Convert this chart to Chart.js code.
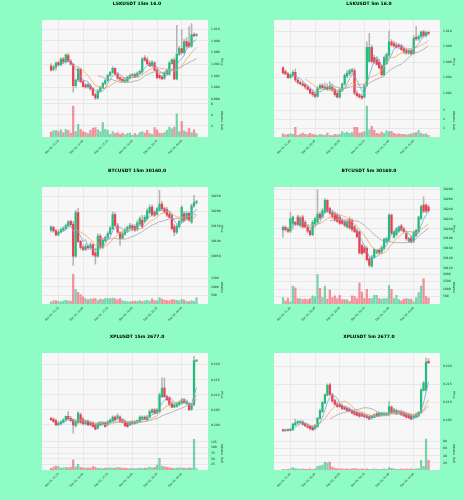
<!DOCTYPE html>
<html>
<head>
<meta charset="utf-8">
<script src="https://cdn.jsdelivr.net/npm/chart.js@4.4.0/dist/chart.umd.min.js"></script>
<style>
  html, body { margin: 0; padding: 0; background: #8efcc4; }
  body { width: 464px; height: 500px; position: relative; overflow: hidden; }
  canvas { position: absolute; }
</style>
</head>
<body>
<canvas id="c0" width="232" height="167" style="left:0;top:0"></canvas>
<canvas id="c1" width="232" height="167" style="left:232px;top:0"></canvas>
<canvas id="c2" width="232" height="167" style="left:0;top:167px"></canvas>
<canvas id="c3" width="232" height="167" style="left:232px;top:167px"></canvas>
<canvas id="c4" width="232" height="167" style="left:0;top:333px"></canvas>
<canvas id="c5" width="232" height="167" style="left:232px;top:333px"></canvas>
<script>
// ---- tick labels (shared) ----
const xTickPos = [3, 13, 23, 33, 43, 53];
const ticks15m = ['Dec 03, 12:15', 'Dec 03, 14:45', 'Dec 03, 17:15', 'Dec 03, 19:45', 'Dec 03, 22:15', 'Dec 04, 00:45'];
const ticks5m = ['Dec 03, 21:45', 'Dec 03, 22:35', 'Dec 03, 23:25', 'Dec 04, 00:15', 'Dec 04, 01:05', 'Dec 04, 01:55'];

// ---- LSKUSDT 15m ----
const lsk15Open = [1.0037,1.0031,1.0035,1.0043,1.0039,1.0049,1.0044,1.0055,1.0045,1.0040,1.0003,1.0013,1.0031,1.0010,1.0004,1.0001,1.0003,0.9998,0.9988,0.9982,0.9994,0.9999,1.0007,1.0012,1.0021,1.0026,1.0033,1.0023,1.0017,1.0014,1.0011,1.0011,1.0017,1.0021,1.0022,1.0019,1.0025,1.0027,1.0051,1.0048,1.0042,1.0038,1.0042,1.0030,1.0021,1.0018,1.0016,1.0024,1.0023,1.0041,1.0047,1.0015,1.0057,1.0067,1.0060,1.0079,1.0077,1.0071,1.0091,1.0089];
const lsk15High = [1.0041,1.0038,1.0044,1.0045,1.0051,1.0052,1.0057,1.0059,1.0048,1.0042,1.0015,1.0034,1.0033,1.0013,1.0007,1.0007,1.0006,1.0000,0.9991,0.9997,1.0002,1.0009,1.0014,1.0023,1.0028,1.0036,1.0034,1.0026,1.0019,1.0017,1.0015,1.0019,1.0023,1.0024,1.0025,1.0027,1.0030,1.0052,1.0055,1.0052,1.0046,1.0046,1.0045,1.0032,1.0024,1.0021,1.0028,1.0032,1.0045,1.0049,1.0051,1.0107,1.0071,1.0099,1.0083,1.0086,1.0105,1.0110,1.0094,1.0093];
const lsk15Low = [1.0028,1.0029,1.0030,1.0037,1.0037,1.0041,1.0042,1.0044,1.0038,0.9992,1.0000,1.0010,1.0008,1.0000,0.9999,0.9999,0.9995,0.9986,0.9979,0.9980,0.9992,0.9998,1.0005,1.0010,1.0019,1.0024,1.0021,1.0014,1.0011,1.0009,1.0008,1.0009,1.0015,1.0018,1.0017,1.0017,1.0022,1.0023,1.0045,1.0039,1.0036,1.0036,1.0028,1.0015,1.0015,1.0014,1.0014,1.0022,1.0021,1.0040,1.0013,1.0013,1.0055,1.0057,1.0058,1.0068,1.0069,1.0069,1.0087,1.0088];
const lsk15Close = [1.0030,1.0035,1.0042,1.0039,1.0049,1.0044,1.0056,1.0045,1.0040,1.0003,1.0013,1.0032,1.0010,1.0002,1.0001,1.0005,0.9998,0.9987,0.9982,0.9994,1.0000,1.0007,1.0012,1.0021,1.0026,1.0033,1.0023,1.0016,1.0013,1.0011,1.0013,1.0018,1.0021,1.0022,1.0018,1.0025,1.0028,1.0049,1.0047,1.0041,1.0037,1.0044,1.0030,1.0017,1.0017,1.0015,1.0025,1.0030,1.0042,1.0048,1.0015,1.0057,1.0067,1.0060,1.0079,1.0071,1.0071,1.0091,1.0089,1.0091];
const lsk15Volume = [9000,11000,12000,10000,13000,8000,14000,12000,7000,56000,10000,23000,14000,10000,8000,6000,12000,16000,17000,13000,10000,26000,14000,12000,5000,10000,6000,8000,5000,7000,4000,6000,7000,3000,6000,4000,8000,10000,7000,12000,6000,5000,17000,13000,7000,6000,8000,12000,18000,15000,18000,42000,10000,28000,11000,9000,16000,8000,13000,6000];
const lsk15PriceTicks = [0.998, 1.000, 1.002, 1.004, 1.006, 1.008, 1.010];
const lsk15VolumeTicks = [20000, 40000, 60000];

// ---- LSKUSDT 5m ----
const lsk5Open = [1.0053,1.0048,1.0045,1.0040,1.0043,1.0047,1.0037,1.0034,1.0032,1.0031,1.0028,1.0025,1.0021,1.0019,1.0016,1.0026,1.0030,1.0026,1.0028,1.0026,1.0028,1.0025,1.0020,1.0015,1.0024,1.0032,1.0042,1.0045,1.0048,1.0049,1.0020,1.0018,1.0016,1.0015,1.0030,1.0061,1.0079,1.0066,1.0063,1.0060,1.0055,1.0044,1.0058,1.0069,1.0086,1.0084,1.0082,1.0082,1.0081,1.0077,1.0075,1.0072,1.0075,1.0071,1.0092,1.0090,1.0093,1.0099,1.0094,1.0098];
const lsk5High = [1.0054,1.0050,1.0047,1.0045,1.0049,1.0051,1.0039,1.0036,1.0035,1.0032,1.0030,1.0027,1.0024,1.0021,1.0029,1.0032,1.0032,1.0033,1.0032,1.0035,1.0032,1.0027,1.0022,1.0027,1.0033,1.0045,1.0049,1.0051,1.0052,1.0052,1.0023,1.0020,1.0019,1.0032,1.0086,1.0097,1.0082,1.0069,1.0066,1.0063,1.0057,1.0068,1.0072,1.0100,1.0089,1.0087,1.0085,1.0084,1.0083,1.0080,1.0078,1.0076,1.0077,1.0094,1.0106,1.0095,1.0100,1.0101,1.0100,1.0100];
const lsk5Low = [1.0045,1.0044,1.0039,1.0039,1.0041,1.0035,1.0032,1.0031,1.0029,1.0026,1.0024,1.0019,1.0016,1.0014,1.0015,1.0025,1.0026,1.0025,1.0024,1.0024,1.0022,1.0016,1.0014,1.0014,1.0022,1.0030,1.0040,1.0043,1.0045,1.0018,1.0015,1.0014,1.0012,1.0014,1.0029,1.0060,1.0059,1.0058,1.0056,1.0051,1.0042,1.0042,1.0057,1.0066,1.0081,1.0079,1.0078,1.0077,1.0075,1.0071,1.0070,1.0070,1.0069,1.0070,1.0088,1.0088,1.0091,1.0092,1.0092,1.0095];
const lsk5Close = [1.0046,1.0045,1.0040,1.0044,1.0047,1.0037,1.0034,1.0032,1.0030,1.0028,1.0025,1.0020,1.0018,1.0016,1.0026,1.0030,1.0027,1.0028,1.0025,1.0029,1.0024,1.0018,1.0015,1.0025,1.0032,1.0043,1.0046,1.0049,1.0050,1.0020,1.0017,1.0015,1.0014,1.0030,1.0079,1.0079,1.0061,1.0060,1.0057,1.0053,1.0044,1.0066,1.0070,1.0086,1.0082,1.0081,1.0079,1.0080,1.0076,1.0073,1.0072,1.0075,1.0071,1.0091,1.0090,1.0093,1.0099,1.0094,1.0098,1.0097];
const lsk5Volume = [3500,2500,3000,3500,3000,11000,2000,3000,4500,3000,2500,4000,3000,2500,2000,3000,2500,2000,4500,2000,1500,3000,2500,3000,6000,4500,5500,4000,5000,11000,11000,4500,5000,6000,35000,8000,12000,7500,4000,3500,5500,4000,7000,6000,6500,4000,3000,3500,3000,3000,2500,3000,3500,4500,5000,7500,4000,3000,3500,2000];
const lsk5PriceTicks = [1.002, 1.004, 1.006, 1.008, 1.010];
const lsk5VolumeTicks = [10000, 20000, 30000];

// ---- BTCUSDT 15m ----
const btc15Open = [30137,30147,30135,30122,30131,30138,30144,30152,30167,30158,30051,30196,30100,30080,30073,30084,30078,30089,30062,30051,30118,30080,30102,30113,30126,30142,30189,30153,30129,30111,30124,30135,30144,30153,30149,30140,30158,30170,30167,30176,30196,30214,30198,30191,30204,30224,30209,30207,30191,30187,30149,30131,30149,30167,30192,30176,30193,30164,30218,30229];
const btc15High = [30153,30151,30140,30138,30144,30149,30158,30170,30171,30167,30203,30211,30104,30089,30091,30089,30096,30093,30078,30125,30124,30111,30118,30133,30151,30198,30196,30160,30133,30135,30144,30153,30160,30158,30156,30169,30182,30187,30187,30209,30222,30222,30202,30213,30270,30233,30215,30213,30198,30192,30158,30156,30171,30220,30200,30200,30198,30224,30253,30237];
const btc15Low = [30131,30131,30118,30118,30128,30133,30140,30148,30149,30020,30047,30096,30073,30069,30069,30073,30073,30051,30024,30047,30073,30076,30098,30109,30122,30138,30149,30126,30087,30107,30120,30131,30140,30135,30133,30135,30153,30144,30164,30171,30191,30184,30182,30187,30200,30204,30193,30182,30178,30138,30118,30126,30144,30162,30167,30171,30167,30160,30213,30224];
const btc15Close = [30148,30135,30122,30131,30139,30144,30153,30164,30156,30051,30196,30100,30080,30073,30084,30078,30089,30056,30051,30118,30080,30104,30113,30126,30144,30189,30153,30131,30111,30126,30138,30147,30153,30140,30137,30162,30176,30149,30180,30202,30213,30189,30187,30209,30224,30209,30198,30187,30181,30142,30131,30151,30167,30213,30170,30193,30170,30218,30229,30231];
const btc15Volume = [120,180,200,150,130,170,220,190,170,1730,860,680,540,420,320,240,300,280,330,200,280,260,310,300,320,340,300,250,310,200,160,140,130,150,170,160,200,140,190,210,170,300,200,180,380,280,230,200,190,260,240,220,180,270,230,160,140,180,160,360];
const btc15PriceTicks = [30050, 30100, 30150, 30200, 30250];
const btc15VolumeTicks = [500, 1000, 1500];

// ---- BTCUSDT 5m ----
const btc5Open = [30197,30203,30199,30195,30211,30213,30224,30207,30224,30213,30203,30196,30188,30209,30214,30230,30224,30234,30258,30241,30233,30230,30228,30224,30217,30214,30204,30219,30217,30204,30196,30194,30166,30162,30160,30139,30124,30142,30151,30156,30153,30160,30173,30177,30228,30183,30188,30195,30206,30200,30190,30175,30181,30175,30187,30194,30221,30248,30248,30244];
const btc5High = [30206,30206,30203,30234,30226,30215,30228,30226,30228,30217,30207,30200,30217,30224,30279,30234,30241,30262,30260,30244,30236,30234,30232,30228,30221,30218,30217,30224,30221,30207,30200,30196,30169,30166,30164,30143,30146,30161,30158,30160,30166,30181,30183,30231,30230,30196,30203,30206,30209,30203,30194,30183,30185,30196,30199,30226,30248,30265,30251,30248];
const btc5Low = [30183,30195,30192,30192,30199,30206,30206,30204,30202,30202,30192,30185,30186,30206,30211,30219,30222,30232,30233,30229,30221,30215,30213,30209,30209,30204,30202,30199,30195,30192,30181,30149,30147,30150,30134,30123,30122,30139,30149,30149,30150,30157,30171,30175,30188,30181,30185,30192,30195,30191,30177,30172,30171,30172,30184,30191,30218,30233,30233,30234];
const btc5Close = [30203,30198,30195,30221,30224,30209,30209,30222,30204,30204,30195,30188,30213,30221,30230,30222,30237,30258,30236,30232,30224,30218,30215,30211,30211,30207,30214,30202,30198,30194,30184,30151,30150,30152,30137,30126,30142,30158,30156,30151,30162,30179,30180,30228,30191,30194,30200,30204,30197,30194,30180,30180,30173,30194,30197,30224,30245,30236,30236,30237];
const btc5Volume = [440,220,400,150,1210,1080,370,370,290,330,290,370,550,480,1980,1060,440,1210,330,950,440,550,370,590,290,290,290,180,550,500,370,1430,810,370,990,370,370,590,590,370,330,370,370,1250,990,370,590,290,220,330,370,330,330,150,440,770,1210,1690,500,400];
const btc5PriceTicks = [30120, 30140, 30160, 30180, 30200, 30220, 30240, 30260, 30280];
const btc5VolumeTicks = [500, 1000, 1500, 2000];

// ---- XPLUSDT 15m ----
const xpl15Open = [0.2022,0.2019,0.2014,0.2000,0.2003,0.2008,0.2017,0.2028,0.2022,0.2017,0.1997,0.2008,0.2033,0.2019,0.2003,0.2011,0.2008,0.2006,0.2000,0.1989,0.2000,0.2003,0.2006,0.2000,0.2008,0.2014,0.2026,0.2022,0.2026,0.2017,0.2011,0.2006,0.2000,0.2003,0.2010,0.2008,0.2011,0.2019,0.2026,0.2017,0.2026,0.2041,0.2050,0.2039,0.2044,0.2094,0.2122,0.2094,0.2089,0.2072,0.2059,0.2061,0.2067,0.2072,0.2083,0.2070,0.2070,0.2052,0.2067,0.2212];
const xpl15High = [0.2026,0.2023,0.2019,0.2011,0.2014,0.2021,0.2030,0.2044,0.2028,0.2021,0.2017,0.2044,0.2039,0.2026,0.2014,0.2017,0.2012,0.2010,0.2006,0.2008,0.2011,0.2010,0.2010,0.2014,0.2019,0.2030,0.2030,0.2037,0.2030,0.2021,0.2017,0.2010,0.2012,0.2014,0.2014,0.2017,0.2030,0.2030,0.2030,0.2032,0.2050,0.2054,0.2054,0.2054,0.2106,0.2156,0.2156,0.2099,0.2094,0.2077,0.2070,0.2074,0.2079,0.2088,0.2088,0.2083,0.2074,0.2070,0.2228,0.2217];
const xpl15Low = [0.2014,0.2008,0.1997,0.1997,0.2000,0.2006,0.2014,0.2017,0.2011,0.1972,0.1992,0.2003,0.2003,0.2000,0.2000,0.1997,0.1997,0.1992,0.1983,0.1986,0.1997,0.2001,0.1992,0.1997,0.2006,0.2012,0.2014,0.2019,0.2008,0.2006,0.1994,0.1992,0.1997,0.2001,0.2003,0.2006,0.2008,0.2017,0.2017,0.2014,0.2023,0.2039,0.2037,0.2037,0.2041,0.2090,0.2090,0.2081,0.2063,0.2057,0.2057,0.2059,0.2063,0.2070,0.2072,0.2068,0.2048,0.2048,0.2063,0.2210];
const xpl15Close = [0.2017,0.2011,0.2000,0.2006,0.2010,0.2017,0.2028,0.2021,0.2014,0.2000,0.2011,0.2039,0.2008,0.2003,0.2011,0.2000,0.2000,0.1994,0.1986,0.2006,0.2008,0.2008,0.1994,0.2011,0.2017,0.2026,0.2017,0.2030,0.2011,0.2008,0.1997,0.1994,0.2008,0.2011,0.2006,0.2014,0.2026,0.2026,0.2019,0.2026,0.2044,0.2050,0.2039,0.2050,0.2100,0.2122,0.2094,0.2083,0.2067,0.2059,0.2067,0.2070,0.2074,0.2083,0.2074,0.2078,0.2050,0.2067,0.2214,0.2214];
const xpl15Volume = [7000,13000,18000,15000,8000,10000,12000,10000,12000,45000,14000,25000,12000,10000,8000,10000,9000,15000,12000,7000,8000,6000,9000,8000,10000,9000,8000,12000,10000,8000,9000,7000,6000,7000,5000,7000,8000,6000,9000,8000,13000,10000,12000,22000,52000,18000,14000,12000,10000,8000,7000,8000,10000,9000,8000,7000,10000,8000,137000,6000];
const xpl15PriceTicks = [0.200, 0.205, 0.210, 0.215, 0.220];
const xpl15VolumeTicks = [25000, 50000, 75000, 100000, 125000];

// ---- XPLUSDT 5m ----
const xpl5Open = [0.2022,0.2019,0.2022,0.2020,0.2022,0.2036,0.2041,0.2043,0.2044,0.2039,0.2035,0.2031,0.2029,0.2025,0.2031,0.2054,0.2073,0.2097,0.2119,0.2148,0.2120,0.2104,0.2095,0.2092,0.2089,0.2086,0.2083,0.2080,0.2076,0.2073,0.2071,0.2069,0.2067,0.2064,0.2061,0.2059,0.2055,0.2057,0.2067,0.2061,0.2063,0.2063,0.2063,0.2064,0.2086,0.2071,0.2076,0.2069,0.2073,0.2071,0.2067,0.2064,0.2061,0.2055,0.2057,0.2061,0.2071,0.2132,0.2134,0.2214];
const xpl5High = [0.2024,0.2024,0.2024,0.2026,0.2041,0.2052,0.2048,0.2048,0.2048,0.2042,0.2039,0.2035,0.2033,0.2037,0.2057,0.2080,0.2102,0.2123,0.2151,0.2153,0.2125,0.2108,0.2101,0.2097,0.2095,0.2089,0.2087,0.2084,0.2080,0.2078,0.2074,0.2072,0.2071,0.2069,0.2065,0.2063,0.2064,0.2067,0.2071,0.2072,0.2071,0.2072,0.2071,0.2102,0.2089,0.2082,0.2080,0.2076,0.2078,0.2074,0.2071,0.2069,0.2065,0.2064,0.2069,0.2074,0.2138,0.2158,0.2224,0.2221];
const xpl5Low = [0.2018,0.2018,0.2019,0.2018,0.2020,0.2033,0.2037,0.2040,0.2034,0.2031,0.2027,0.2022,0.2020,0.2022,0.2029,0.2052,0.2071,0.2095,0.2117,0.2117,0.2099,0.2091,0.2085,0.2084,0.2078,0.2078,0.2074,0.2072,0.2067,0.2062,0.2060,0.2057,0.2059,0.2056,0.2054,0.2050,0.2052,0.2056,0.2059,0.2059,0.2061,0.2061,0.2061,0.2061,0.2069,0.2069,0.2065,0.2067,0.2062,0.2059,0.2056,0.2053,0.2050,0.2052,0.2056,0.2059,0.2067,0.2131,0.2131,0.2208];
const xpl5Close = [0.2019,0.2022,0.2020,0.2024,0.2038,0.2042,0.2045,0.2045,0.2037,0.2033,0.2029,0.2025,0.2022,0.2034,0.2054,0.2076,0.2099,0.2120,0.2147,0.2121,0.2102,0.2093,0.2087,0.2087,0.2081,0.2080,0.2076,0.2074,0.2069,0.2065,0.2062,0.2060,0.2061,0.2058,0.2056,0.2052,0.2061,0.2064,0.2061,0.2069,0.2069,0.2069,0.2067,0.2087,0.2071,0.2078,0.2067,0.2073,0.2064,0.2061,0.2057,0.2055,0.2052,0.2061,0.2067,0.2071,0.2134,0.2153,0.2212,0.2210];
const xpl5Volume = [2000,1000,2000,3000,7000,4000,3000,2000,3000,2000,2000,3000,2000,3000,10000,12000,14000,22000,20000,22000,8000,5000,4000,3000,3000,2000,3000,2000,3000,4000,3000,2000,3000,2000,3000,2000,2000,3000,2000,2000,2000,3000,2000,7000,5000,3000,2000,2000,3000,2000,3000,2000,3000,2000,3000,4000,27000,10000,87000,27000];
const xpl5PriceTicks = [0.205, 0.210, 0.215, 0.220];
const xpl5VolumeTicks = [20000, 40000, 60000, 80000];

// ---- style ----
Chart.defaults.font.family = 'DejaVu Sans';
Chart.defaults.color = '#222';

const UP = '#22bd7c', DOWN = '#f13d4d', WICK = '#b4b4b4';
const UP_VOL = 'rgba(34,189,124,0.6)', DOWN_VOL = 'rgba(241,61,77,0.55)';
const GRID = '#dedede';
const maPeriods = [5, 10, 20];
const maColors = ['#6fa6dc', '#f2a65a', '#a6a6a6'];

// simple moving average of the closes, like mav=(5,10,20)
function sma(values, n) {
  return values.map((v, i) => {
    if (i < n - 1) return null;
    let s = 0;
    for (let k = i - n + 1; k <= i; k++) s += values[k];
    return s / n;
  });
}

const panelBg = {
  id: 'panelBg',
  beforeDraw(chart) {
    const a = chart.chartArea, ctx = chart.ctx;
    ctx.save();
    ctx.fillStyle = '#f7f7f7';
    ctx.fillRect(a.left, a.top, a.right - a.left, a.bottom - a.top);
    ctx.restore();
  }
};

function makeChart(id, s) {
  const idx = s.close.map((_, i) => i);
  const up = idx.map(i => s.close[i] >= s.open[i]);

  const datasets = [
    { type: 'bar', yAxisID: 'y', order: 2, grouped: false, barThickness: 0.9,
      data: idx.map(i => ({ x: i, y: [s.low[i], s.high[i]] })), backgroundColor: WICK },
    { type: 'bar', yAxisID: 'y', order: 1, grouped: false, barThickness: 1.6, minBarLength: 1,
      data: idx.map(i => ({ x: i, y: [s.open[i], s.close[i]] })),
      backgroundColor: up.map(u => u ? UP : DOWN) },
    { type: 'bar', yAxisID: 'v', order: 3, grouped: false, barThickness: 1.6,
      data: idx.map(i => ({ x: i, y: s.volume[i] })),
      backgroundColor: up.map(u => u ? UP_VOL : DOWN_VOL) }
  ];
  maPeriods.forEach((p, k) => {
    const m = sma(s.close, p);
    datasets.push({ type: 'line', yAxisID: 'y', order: 0,
      data: idx.map(i => ({ x: i, y: m[i] })),
      borderColor: maColors[k], borderWidth: 0.8, pointRadius: 0, fill: false, tension: 0 });
  });

  const grid = { color: GRID, lineWidth: 0.6, tickLength: 2 };

  new Chart(document.getElementById(id), {
    type: 'bar',
    data: { datasets },
    options: {
      responsive: false,
      animation: false,
      events: [],
      layout: { padding: { left: 42, right: 0, top: 0, bottom: 0 } },
      plugins: {
        legend: { display: false },
        tooltip: { enabled: false },
        title: { display: true, text: s.title, color: '#000',
                 font: { size: 4.5, weight: 'bold' }, padding: { top: 1, bottom: 13.6 } }
      },
      scales: {
        x: {
          type: 'linear', min: -3.65, max: 63.66, offset: false,
          afterBuildTicks: sc => { sc.ticks = xTickPos.map(v => ({ value: v })); },
          afterFit: sc => { sc.height = 30; },
          ticks: { autoSkip: false, minRotation: 45, maxRotation: 45, padding: 0.5,
                   font: { size: 2.6 },
                   callback: v => { const k = xTickPos.indexOf(v); return k < 0 ? '' : s.xLabels[k]; } },
          grid: Object.assign({ offset: false }, grid),
          border: { display: false }
        },
        y: {
          position: 'right', stack: 'panels', stackWeight: 2.5,
          min: s.priceMin, max: s.priceMax,
          afterBuildTicks: sc => { sc.ticks = s.priceTicks.map(v => ({ value: v })); },
          afterFit: sc => { sc.width = 24; },
          ticks: { autoSkip: false, padding: 1, font: { size: 3 },
                   callback: v => v.toFixed(s.priceDigits) },
          title: { display: true, text: 'Price', font: { size: 3 }, padding: { top: 8, bottom: 0 } },
          grid, border: { display: false }
        },
        v: {
          position: 'right', stack: 'panels', stackWeight: 1,
          min: 0, max: s.volMax,
          afterBuildTicks: sc => { sc.ticks = s.volTicks.map(v => ({ value: v })); },
          afterFit: sc => { sc.width = 24; },
          ticks: { autoSkip: false, padding: 1, font: { size: 3 },
                   callback: v => String(v / s.volUnit) },
          title: { display: true, text: s.volTitle, font: { size: 3 }, padding: { top: 8, bottom: 0 } },
          grid, border: { display: false }
        }
      }
    },
    plugins: [panelBg]
  });
}

makeChart('c0', { title: 'LSKUSDT 15m 16.0', open: lsk15Open, high: lsk15High, low: lsk15Low, close: lsk15Close,
  volume: lsk15Volume, priceTicks: lsk15PriceTicks, priceDigits: 3, priceMin: 0.99724, priceMax: 1.01161,
  volTicks: lsk15VolumeTicks, volMax: 60600, volUnit: 10000, volTitle: 'Volume  1e4', xLabels: ticks15m });

makeChart('c1', { title: 'LSKUSDT 5m 16.0', open: lsk5Open, high: lsk5High, low: lsk5Low, close: lsk5Close,
  volume: lsk5Volume, priceTicks: lsk5PriceTicks, priceDigits: 3, priceMin: 1.00067, priceMax: 1.01142,
  volTicks: lsk5VolumeTicks, volMax: 37700, volUnit: 10000, volTitle: 'Volume  1e4', xLabels: ticks5m });

makeChart('c2', { title: 'BTCUSDT 15m 30160.0', open: btc15Open, high: btc15High, low: btc15Low, close: btc15Close,
  volume: btc15Volume, priceTicks: btc15PriceTicks, priceDigits: 0, priceMin: 30003, priceMax: 30281,
  volTicks: btc15VolumeTicks, volMax: 1950, volUnit: 1, volTitle: 'Volume', xLabels: ticks15m });

makeChart('c3', { title: 'BTCUSDT 5m 30160.0', open: btc5Open, high: btc5High, low: btc5Low, close: btc5Close,
  volume: btc5Volume, priceTicks: btc5PriceTicks, priceDigits: 0, priceMin: 30115, priceMax: 30285,
  volTicks: btc5VolumeTicks, volMax: 2250, volUnit: 1, volTitle: 'Volume', xLabels: ticks5m });

makeChart('c4', { title: 'XPLUSDT 15m 2677.0', open: xpl15Open, high: xpl15High, low: xpl15Low, close: xpl15Close,
  volume: xpl15Volume, priceTicks: xpl15PriceTicks, priceDigits: 3, priceMin: 0.19611, priceMax: 0.22389,
  volTicks: xpl15VolumeTicks, volMax: 148800, volUnit: 1000, volTitle: 'Volume  1e3', xLabels: ticks15m });

makeChart('c5', { title: 'XPLUSDT 5m 2677.0', open: xpl5Open, high: xpl5High, low: xpl5Low, close: xpl5Close,
  volume: xpl5Volume, priceTicks: xpl5PriceTicks, priceDigits: 3, priceMin: 0.2003, priceMax: 0.22375,
  volTicks: xpl5VolumeTicks, volMax: 94000, volUnit: 1000, volTitle: 'Volume  1e3', xLabels: ticks5m });
</script>
</body>
</html>
